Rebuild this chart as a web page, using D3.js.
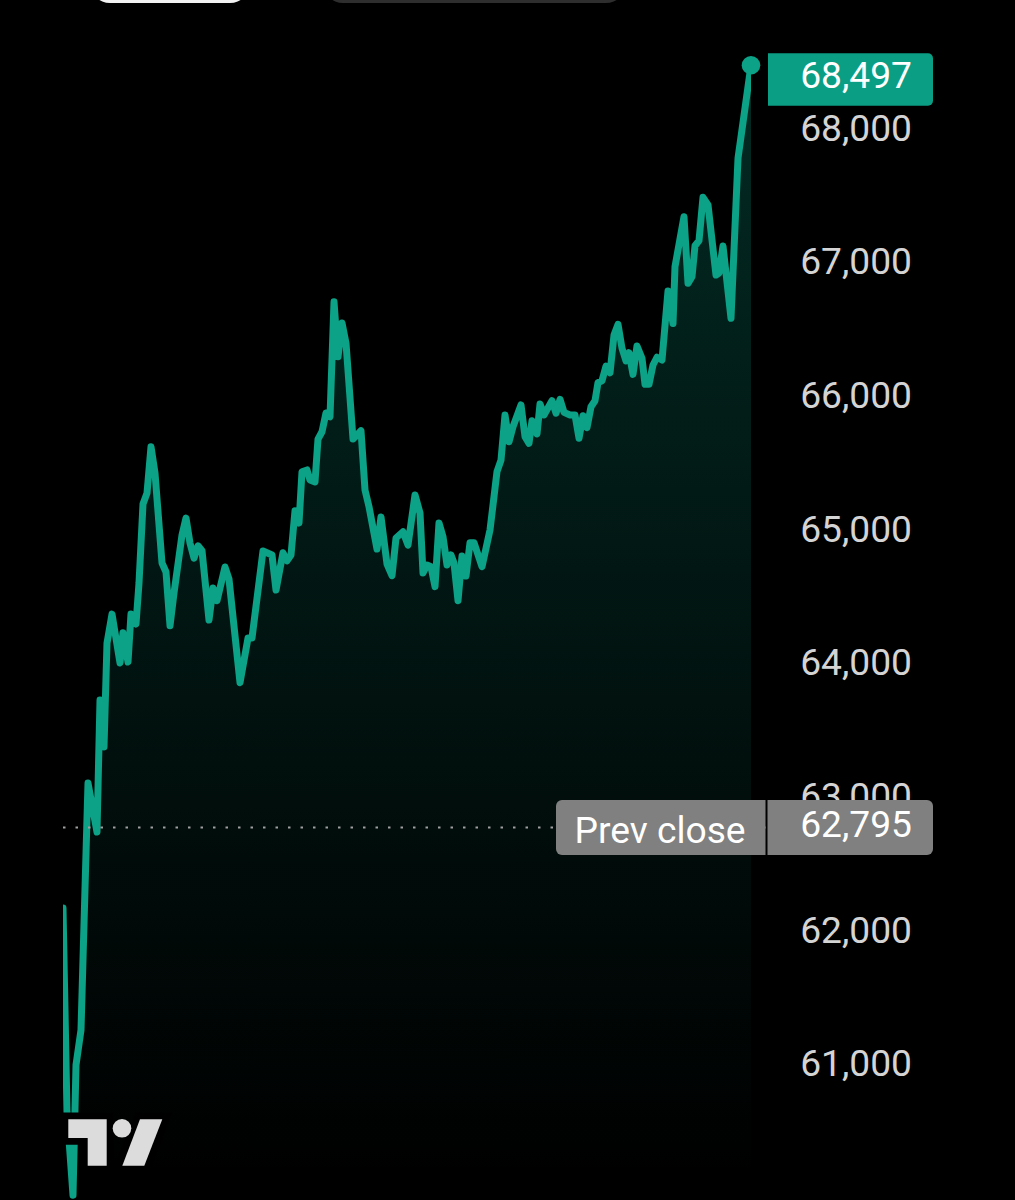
<!DOCTYPE html>
<html>
<head>
<meta charset="utf-8">
<script src="https://cdnjs.cloudflare.com/ajax/libs/d3/7.8.5/d3.min.js"></script>
<style>
html, body { margin: 0; padding: 0; background: #000; overflow: hidden; }
text { font-family: Roboto, sans-serif; }
</style>
</head>
<body>
<div id="chart"></div>
<script>
// sample position along the session, one unit is one bar
var barIndex = [
	0, 1, 2.5, 3.25, 4.5, 6.25, 8.5, 9.25, 10.25, 11, 12.25, 14.25, 15, 16.25, 17, 18.25, 19, 20, 21, 22,
	23, 24.75, 25.75, 26.75, 27.75, 29.75, 30.75, 31.75, 32.75, 33.75, 34.75, 36.5, 37.5, 38.5, 40.5, 41.5, 44.25, 46.25, 47.25, 50,
	52.25, 53.25, 55, 56, 57, 58, 59, 59.75, 61, 61.75, 63, 63.75, 64.75, 65.75, 66.75, 67.75, 68.75, 69.75, 70.75, 72.5,
	74.5, 75.5, 76.5, 78.5, 79.5, 81, 82.25, 83.25, 85, 86.25, 88, 89.25, 90, 91, 92, 93, 94, 95, 96, 97,
	97.75, 98.75, 99.75, 100.75, 101.75, 102.75, 104.75, 106.75, 108.5, 109.5, 110.5, 111.5, 112.5, 114.5, 115.5, 116.5, 117.25, 118.5, 119.25, 120.25,
	122.25, 123.25, 124.25, 125.25, 126.75, 128, 129, 130, 131, 132, 133, 133.75, 134.75, 135.75, 136.75, 137.75, 138.75, 139.75, 140.75, 141.5,
	142.5, 143.5, 144.75, 145.5, 146.5, 147.5, 148.5, 149.75, 151.25, 152.5, 153, 155.25, 156.25, 157.25, 158, 159, 160, 161.25, 163.25, 164,
	165, 167, 168.75, 172
];
var prices = [
	62193, 60667, 60046, 61019, 61281, 63128, 62762, 63749, 63398, 64175, 64392, 64026, 64253, 64033, 64392, 64318, 64624, 65215, 65297, 65644,
	65447, 64774, 64707, 64305, 64549, 64983, 65110, 64923, 64811, 64903, 64866, 64347, 64587, 64492, 64744, 64654, 63879, 64213, 64213, 64864,
	64834, 64572, 64851, 64791, 64834, 65165, 65073, 65457, 65470, 65395, 65380, 65701, 65756, 65896, 65868, 66728, 66317, 66569, 66419, 65701,
	65763, 65320, 65195, 64879, 65118, 64766, 64679, 64961, 65008, 64908, 65283, 65148, 64699, 64759, 64746, 64597, 65073, 64971, 64759, 64834,
	64774, 64492, 64826, 64677, 64926, 64926, 64746, 65021, 65457, 65544, 65881, 65681, 65793, 65956, 65719, 65669, 65838, 65739, 65963, 65881,
	65988, 65894, 65998, 65901, 65881, 65881, 65707, 65876, 65786, 65943, 65988, 66123, 66137, 66247, 66197, 66479, 66559, 66380, 66285, 66347,
	66185, 66397, 66305, 66111, 66111, 66255, 66313, 66292, 66808, 66565, 66990, 67364, 66866, 66915, 67147, 67185, 67509, 67452, 66928, 66943,
	67145, 66604, 67801, 68497
];
var priceTicks = [61000, 62000, 63000, 64000, 65000, 66000, 67000, 68000];
var prevClose = 62795;
var lastPrice = 68497;
var prevCloseText = "Prev close";

var green = "#0ba287";
var greyLabel = "#808080";
var labelFont = "37.2px";
var width = 1015, height = 1200;

var points = barIndex.map(function(b, i){ return {bar: b, price: prices[i]}; });

var x = d3.scaleLinear().domain([0, 172]).range([63, 751]);
var y = d3.scaleLinear().domain([61000, 68000]).range([1067.6, 131.7]);
var fmt = d3.format(",");

var svg = d3.select("#chart").append("svg")
	.attr("width", width)
	.attr("height", height)
	.style("display", "block");

var defs = svg.append("defs");
var grad = defs.append("linearGradient")
	.attr("id", "areaFill")
	.attr("gradientUnits", "userSpaceOnUse")
	.attr("x1", 0).attr("x2", 0)
	.attr("y1", y(lastPrice)).attr("y2", 1175);
grad.append("stop").attr("offset", 0).attr("stop-color", green).attr("stop-opacity", 0.26);
grad.append("stop").attr("offset", 1).attr("stop-color", green).attr("stop-opacity", 0);

defs.append("clipPath").attr("id", "plotClip").append("rect")
	.attr("x", 63).attr("y", 0)
	.attr("width", 688).attr("height", height);

// bits of the app buttons cut off by the top of the screenshot
svg.append("rect").attr("x", 90).attr("y", -40).attr("width", 160).attr("height", 43).attr("rx", 20).attr("fill", "#f2f2f2");
svg.append("rect").attr("x", 323).attr("y", -40).attr("width", 303).attr("height", 43).attr("rx", 20).attr("fill", "#2e2e2e");

var plot = svg.append("g").attr("clip-path", "url(#plotClip)");

var area = d3.area()
	.x(function(d){ return x(d.bar); })
	.y0(height)
	.y1(function(d){ return y(d.price); });
var line = d3.line()
	.x(function(d){ return x(d.bar); })
	.y(function(d){ return y(d.price); });

plot.append("path").datum(points)
	.attr("d", area)
	.attr("fill", "url(#areaFill)");

// dotted prev close level
svg.append("line")
	.attr("x1", x(0)).attr("x2", 768)
	.attr("y1", y(prevClose)).attr("y2", y(prevClose))
	.attr("stroke", "#a0a0a0")
	.attr("stroke-width", 2)
	.attr("stroke-dasharray", "2.5 10");

plot.append("path").datum(points)
	.attr("d", line)
	.attr("fill", "none")
	.attr("stroke", green)
	.attr("stroke-width", 7)
	.attr("stroke-linejoin", "round")
	.attr("stroke-linecap", "round");

svg.append("circle")
	.attr("cx", x(172)).attr("cy", y(lastPrice))
	.attr("r", 9.3)
	.attr("fill", green);

// price axis
var axis = d3.axisRight(y)
	.tickValues(priceTicks)
	.tickFormat(fmt)
	.tickSize(0);
var axisG = svg.append("g").attr("transform", "translate(912,0)").call(axis);
axisG.select(".domain").remove();
axisG.selectAll("text")
	.attr("x", 0)
	.attr("dy", 8.3)
	.attr("text-anchor", "end")
	.attr("fill", "#d4d4d4")
	.style("font-family", "Roboto, sans-serif")
	.style("font-size", labelFont);

// rect with only the left or right corners rounded
function labelPath(x0, x1, y0, y1, r, side){
	var p = d3.path();
	var rl = side == "left" ? r : 0;
	var rr = side == "right" ? r : 0;
	p.moveTo(x0 + rl, y0);
	p.lineTo(x1 - rr, y0);
	if(rr){ p.arcTo(x1, y0, x1, y0 + rr, rr); }
	p.lineTo(x1, y1 - rr);
	if(rr){ p.arcTo(x1, y1, x1 - rr, y1, rr); }
	p.lineTo(x0 + rl, y1);
	if(rl){ p.arcTo(x0, y1, x0, y1 - rl, rl); }
	p.lineTo(x0, y0 + rl);
	if(rl){ p.arcTo(x0, y0, x0 + rl, y0, rl); }
	p.closePath();
	return p.toString();
}

svg.append("path").attr("d", labelPath(768, 933, 53.3, 105.7, 5, "right")).attr("fill", "#0a9e84");
svg.append("text")
	.attr("x", 912).attr("y", 88.3)
	.attr("text-anchor", "end")
	.attr("fill", "#fff")
	.style("font-size", labelFont)
	.text(fmt(lastPrice));

svg.append("path").attr("d", labelPath(556, 765.5, 800, 855, 6, "left")).attr("fill", greyLabel);
svg.append("path").attr("d", labelPath(767.5, 933, 800, 855, 6, "right")).attr("fill", greyLabel);
svg.append("text")
	.attr("x", 574.5).attr("y", 842.5)
	.attr("fill", "#fff")
	.style("font-size", labelFont)
	.text(prevCloseText);
svg.append("text")
	.attr("x", 912).attr("y", 836.7)
	.attr("text-anchor", "end")
	.attr("fill", "#fff")
	.style("font-size", labelFont)
	.text(fmt(prevClose));

// TradingView mark, black outline knocks out the line behind it
var logo = svg.append("g");
var logoPaths = [
	"M68.3,1119.3H106.7V1165.7H87.7V1138H68.3Z",
	"M140,1119.3H162.3L144.3,1165.7H122.3Z"
];
logo.selectAll("path").data(logoPaths).enter().append("path")
	.attr("d", function(d){ return d; })
	.attr("fill", "#dcdcdc")
	.attr("stroke", "#000")
	.attr("stroke-width", 13.4)
	.attr("paint-order", "stroke");
logo.append("circle")
	.attr("cx", 122).attr("cy", 1128.3).attr("r", 9.3)
	.attr("fill", "#dcdcdc");
</script>
</body>
</html>
